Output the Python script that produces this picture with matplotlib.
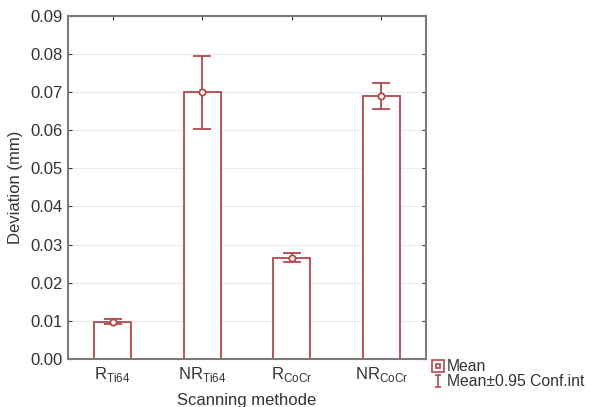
import matplotlib
matplotlib.use("Agg")
import matplotlib.pyplot as plt
from matplotlib.lines import Line2D
from matplotlib.path import Path
from matplotlib.legend_handler import HandlerTuple

# data
labels = [r'R$_{\mathregular{Ti64}}$', r'NR$_{\mathregular{Ti64}}$',
          r'R$_{\mathregular{CoCr}}$', r'NR$_{\mathregular{CoCr}}$']
means = [0.0098, 0.0700, 0.0265, 0.0691]
ci_low = [0.0093, 0.0603, 0.0254, 0.0657]
ci_high = [0.0104, 0.0796, 0.0277, 0.0724]

plt.rcParams['font.family'] = ['Liberation Sans', 'DejaVu Sans']
red = '#b5474a'
grey = '#7a7a7a'
txt = '#333333'

fig = plt.figure(figsize=(5.91, 4.07), dpi=100)
ax = fig.add_axes([0.115, 0.118, 0.606, 0.843])

x = list(range(len(means)))
ax.bar(x, means, width=0.41, facecolor='white', edgecolor=red, linewidth=1.3, zorder=2)
err = [[m - lo for m, lo in zip(means, ci_low)], [hi - m for m, hi in zip(means, ci_high)]]
ax.errorbar(x, means, yerr=err, fmt='none', ecolor=red, elinewidth=1.3,
            capsize=6.5, capthick=1.3, zorder=3)
ax.plot(x, means, linestyle='none', marker='o', markersize=4.5, markerfacecolor='white',
        markeredgecolor=red, markeredgewidth=1.3, zorder=4)

ax.set_xlim(-0.5, 3.5)
ax.set_ylim(0, 0.09)
ax.set_yticks([i * 0.01 for i in range(10)])
ax.set_yticklabels(['%.2f' % (i * 0.01) for i in range(10)])
ax.set_xticks(x)
ax.set_xticklabels(labels)
ax.yaxis.grid(True, color='#ececec', linewidth=0.8, zorder=0)
ax.set_axisbelow(True)

for s in ax.spines.values():
    s.set_color(grey)
    s.set_linewidth(1.5)
ax.tick_params(direction='in', length=3, color=txt, labelsize=12, labelcolor=txt,
               top=True, right=True, pad=4)

ax.set_ylabel('Deviation (mm)', fontsize=12, color=txt, labelpad=5)
ax.set_xlabel('Scanning methode', fontsize=12, color=txt, labelpad=7)

# legend icons
ibeam = Path([(-0.5, 1), (0.5, 1), (0, 1), (0, -1), (-0.5, -1), (0.5, -1)],
             [Path.MOVETO, Path.LINETO, Path.MOVETO, Path.LINETO, Path.MOVETO, Path.LINETO])
h1 = (Line2D([], [], linestyle='none', marker='s', markersize=8, markerfacecolor='white',
             markeredgecolor=red, markeredgewidth=1.2),
      Line2D([], [], linestyle='none', marker='s', markersize=3.5, markerfacecolor='white',
             markeredgecolor=red, markeredgewidth=1.2))
h2 = Line2D([], [], linestyle='none', marker=ibeam, markersize=9, markerfacecolor='none',
            markeredgecolor=red, markeredgewidth=1.2)
fig.legend([h1, h2], ['Mean', 'Mean±0.95 Conf.int'],
           handler_map={tuple: HandlerTuple(ndivide=1)},
           loc='upper left', bbox_to_anchor=(0.722, 0.133), frameon=False,
           fontsize=11.3, handlelength=0.6, handletextpad=0.3, labelspacing=0.0,
           borderaxespad=0, labelcolor=txt)

fig.savefig('out.png', dpi=100)
